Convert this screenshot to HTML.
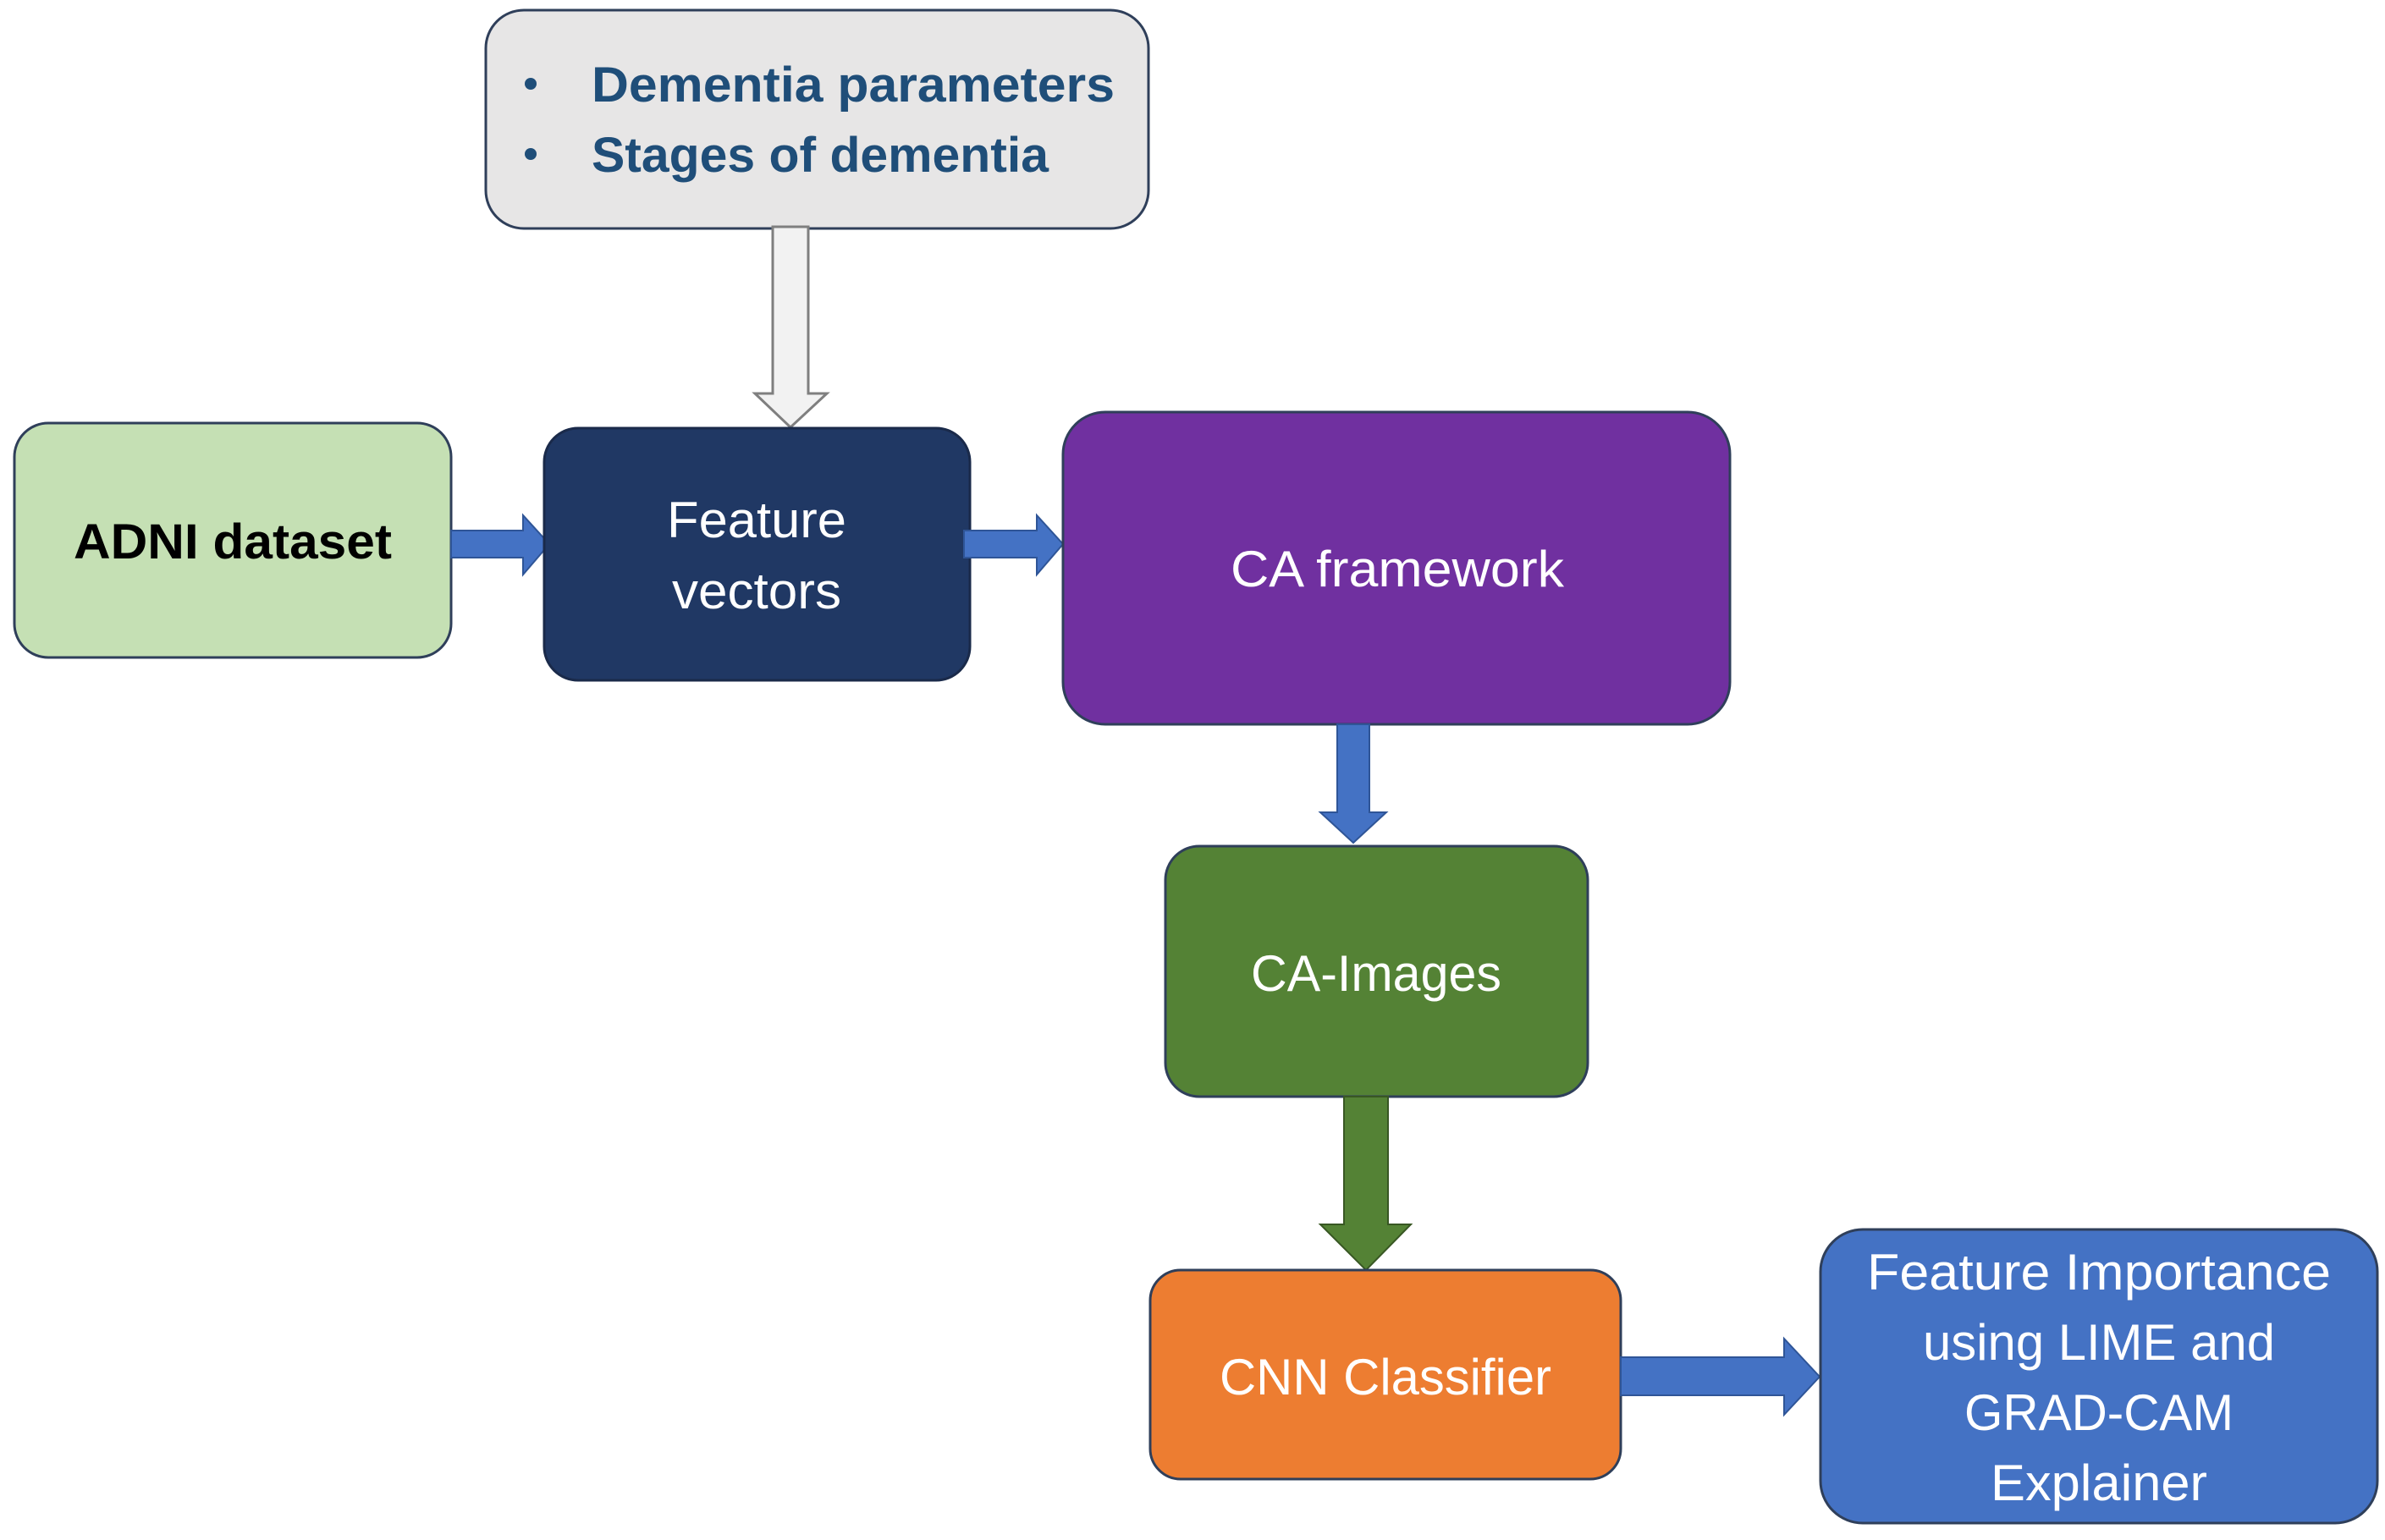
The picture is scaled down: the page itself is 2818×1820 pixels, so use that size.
<!DOCTYPE html>
<html><head><meta charset="utf-8"><style>html,body{margin:0;padding:0;background:#fff}svg{display:block}</style></head>
<body>
<svg width="2818" height="1820" viewBox="0 0 2818 1820" xmlns="http://www.w3.org/2000/svg" font-family="Liberation Sans, sans-serif">
<rect width="2818" height="1820" fill="#fff"/>
<!-- top box -->
<rect x="574" y="12" width="783" height="258" rx="45" fill="#e7e6e6" stroke="#2f3f5a" stroke-width="3"/>
<circle cx="627" cy="99" r="7" fill="#1f4e79"/>
<circle cx="627" cy="182" r="7" fill="#1f4e79"/>
<text x="699" y="120" font-size="58" font-weight="bold" fill="#1f4e79" textLength="618" lengthAdjust="spacingAndGlyphs">Dementia parameters</text>
<text x="699" y="203" font-size="58" font-weight="bold" fill="#1f4e79" textLength="540" lengthAdjust="spacingAndGlyphs">Stages of dementia</text>
<!-- hollow arrow -->
<polygon points="913,268 955,268 955,465 977,465 934,505 892,465 913,465" fill="#f2f2f2" stroke="#7f7f7f" stroke-width="3"/>
<!-- ADNI -->
<rect x="17" y="500" width="516" height="277" rx="40" fill="#c5e0b4" stroke="#2f3f5a" stroke-width="3"/>
<text x="275" y="660" font-size="58" font-weight="bold" fill="#000" text-anchor="middle" textLength="376" lengthAdjust="spacingAndGlyphs">ADNI dataset</text>
<!-- arrow ADNI->FV -->
<polygon points="533,627 618,627 618,609 649,643 618,679 618,659 533,659" fill="#4472c4" stroke="#2f5597" stroke-width="2"/>
<!-- Feature vectors -->
<rect x="643" y="506" width="503" height="298" rx="40" fill="#203864" stroke="#1a2a4a" stroke-width="3"/>
<text x="894" y="635" font-size="60" fill="#fff" text-anchor="middle" textLength="212" lengthAdjust="spacingAndGlyphs">Feature</text>
<text x="894" y="719" font-size="60" fill="#fff" text-anchor="middle" textLength="200" lengthAdjust="spacingAndGlyphs">vectors</text>
<!-- arrow FV->CA -->
<polygon points="1139,627 1225,627 1225,609 1256,643 1225,679 1225,659 1139,659" fill="#4472c4" stroke="#2f5597" stroke-width="2"/>
<!-- CA framework -->
<rect x="1256" y="487" width="788" height="369" rx="50" fill="#7030a0" stroke="#2f3f5a" stroke-width="3"/>
<text x="1651" y="693" font-size="60" fill="#fff" text-anchor="middle" textLength="394" lengthAdjust="spacingAndGlyphs">CA framework</text>
<!-- arrow down -->
<polygon points="1580,856 1618,856 1618,960 1638,960 1599,996 1560,960 1580,960" fill="#4472c4" stroke="#2f5597" stroke-width="2"/>
<!-- CA-Images -->
<rect x="1377" y="1000" width="499" height="296" rx="40" fill="#548235" stroke="#2f3f5a" stroke-width="3"/>
<text x="1626" y="1171" font-size="60" fill="#fff" text-anchor="middle" textLength="296" lengthAdjust="spacingAndGlyphs">CA-Images</text>
<!-- green arrow -->
<polygon points="1588,1296 1640,1296 1640,1447 1667,1447 1614,1501 1560,1447 1588,1447" fill="#548235" stroke="#385723" stroke-width="2"/>
<!-- CNN -->
<rect x="1359" y="1501" width="556" height="247" rx="36" fill="#ed7d31" stroke="#2f3f5a" stroke-width="3"/>
<text x="1637" y="1648" font-size="60" fill="#fff" text-anchor="middle" textLength="392" lengthAdjust="spacingAndGlyphs">CNN Classifier</text>
<!-- arrow right -->
<polygon points="1915,1604 2108,1604 2108,1582 2150,1627 2108,1672 2108,1649 1915,1649" fill="#4472c4" stroke="#2f5597" stroke-width="2"/>
<!-- Blue box -->
<rect x="2151" y="1453" width="658" height="347" rx="50" fill="#4472c4" stroke="#2f3f5a" stroke-width="3"/>
<text x="2480" y="1524" font-size="60" fill="#fff" text-anchor="middle" textLength="548" lengthAdjust="spacingAndGlyphs">Feature Importance</text>
<text x="2480" y="1607" font-size="60" fill="#fff" text-anchor="middle" textLength="416" lengthAdjust="spacingAndGlyphs">using LIME and</text>
<text x="2480" y="1690" font-size="60" fill="#fff" text-anchor="middle" textLength="318" lengthAdjust="spacingAndGlyphs">GRAD-CAM</text>
<text x="2480" y="1773" font-size="60" fill="#fff" text-anchor="middle" textLength="256" lengthAdjust="spacingAndGlyphs">Explainer</text>
</svg>
</body></html>
